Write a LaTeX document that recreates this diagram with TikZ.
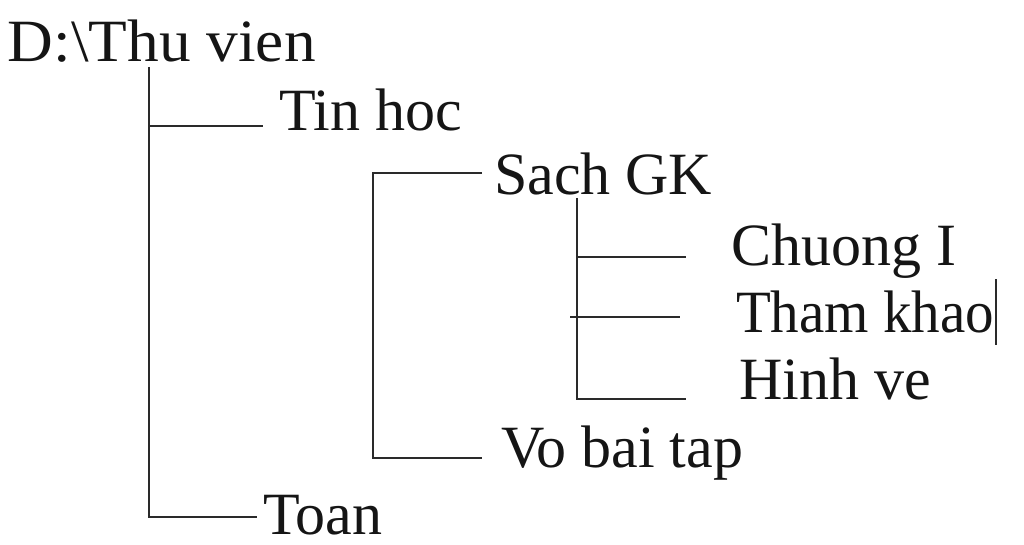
\documentclass[tikz,border=0pt]{standalone}
\usepackage{fontspec}
\setmainfont{Liberation Serif}
\definecolor{ink}{HTML}{151515}
\definecolor{wire}{HTML}{2A2A2A}
\begin{document}
\begin{tikzpicture}[x=1pt,y=-1pt,
  lbl/.style={anchor=base west,inner sep=0pt,outer sep=0pt,text=ink,font=\fontsize{60}{62}\selectfont},
  wirestyle/.style={draw=wire,line width=2.7pt}]
\useasboundingbox (0,0) rectangle (1024,545);
% labels
\node[lbl,xscale=1.055] (root) at (8,62) {D:\textbackslash Thu vien};
\node[lbl] (tin) at (279,131) {Tin hoc};
\node[lbl] (sach) at (494,195) {Sach GK};
\node[lbl] (chuong) at (731,265) {Chuong I};
\node[lbl,xscale=0.95] (tham) at (736,332) {Tham khao};
\node[lbl] (hinh) at (739,399) {Hinh ve};
\node[lbl] (vo) at (501,467) {Vo bai tap};
\node[lbl] (toan) at (263,534) {Toan};
% connector coordinates
\coordinate (rtop) at (149,67);
\coordinate (tinend) at (263,126);
\coordinate (toanend) at (257,517);
\coordinate (stop) at (373,173);
\coordinate (sachend) at (482,173);
\coordinate (voend) at (482,458);
\coordinate (ctop) at (577,198);
\coordinate (chend) at (686,257);
\coordinate (thstart) at (570,317);
\coordinate (thend) at (680,317);
\coordinate (hvend) at (686,399);
\coordinate (curtop) at (996,279);
\coordinate (curbot) at (996,345);
% connectors
\draw[wirestyle] (rtop) |- (toanend);
\draw[wirestyle] (rtop |- tinend) -- (tinend);
\draw[wirestyle] (sachend) -- (stop) |- (voend);
\draw[wirestyle] (ctop) |- (hvend);
\draw[wirestyle] (ctop |- chend) -- (chend);
\draw[wirestyle] (thstart) -- (thend);
\draw[draw=wire,line width=2pt] (curtop) -- (curbot);
\end{tikzpicture}
\end{document}
